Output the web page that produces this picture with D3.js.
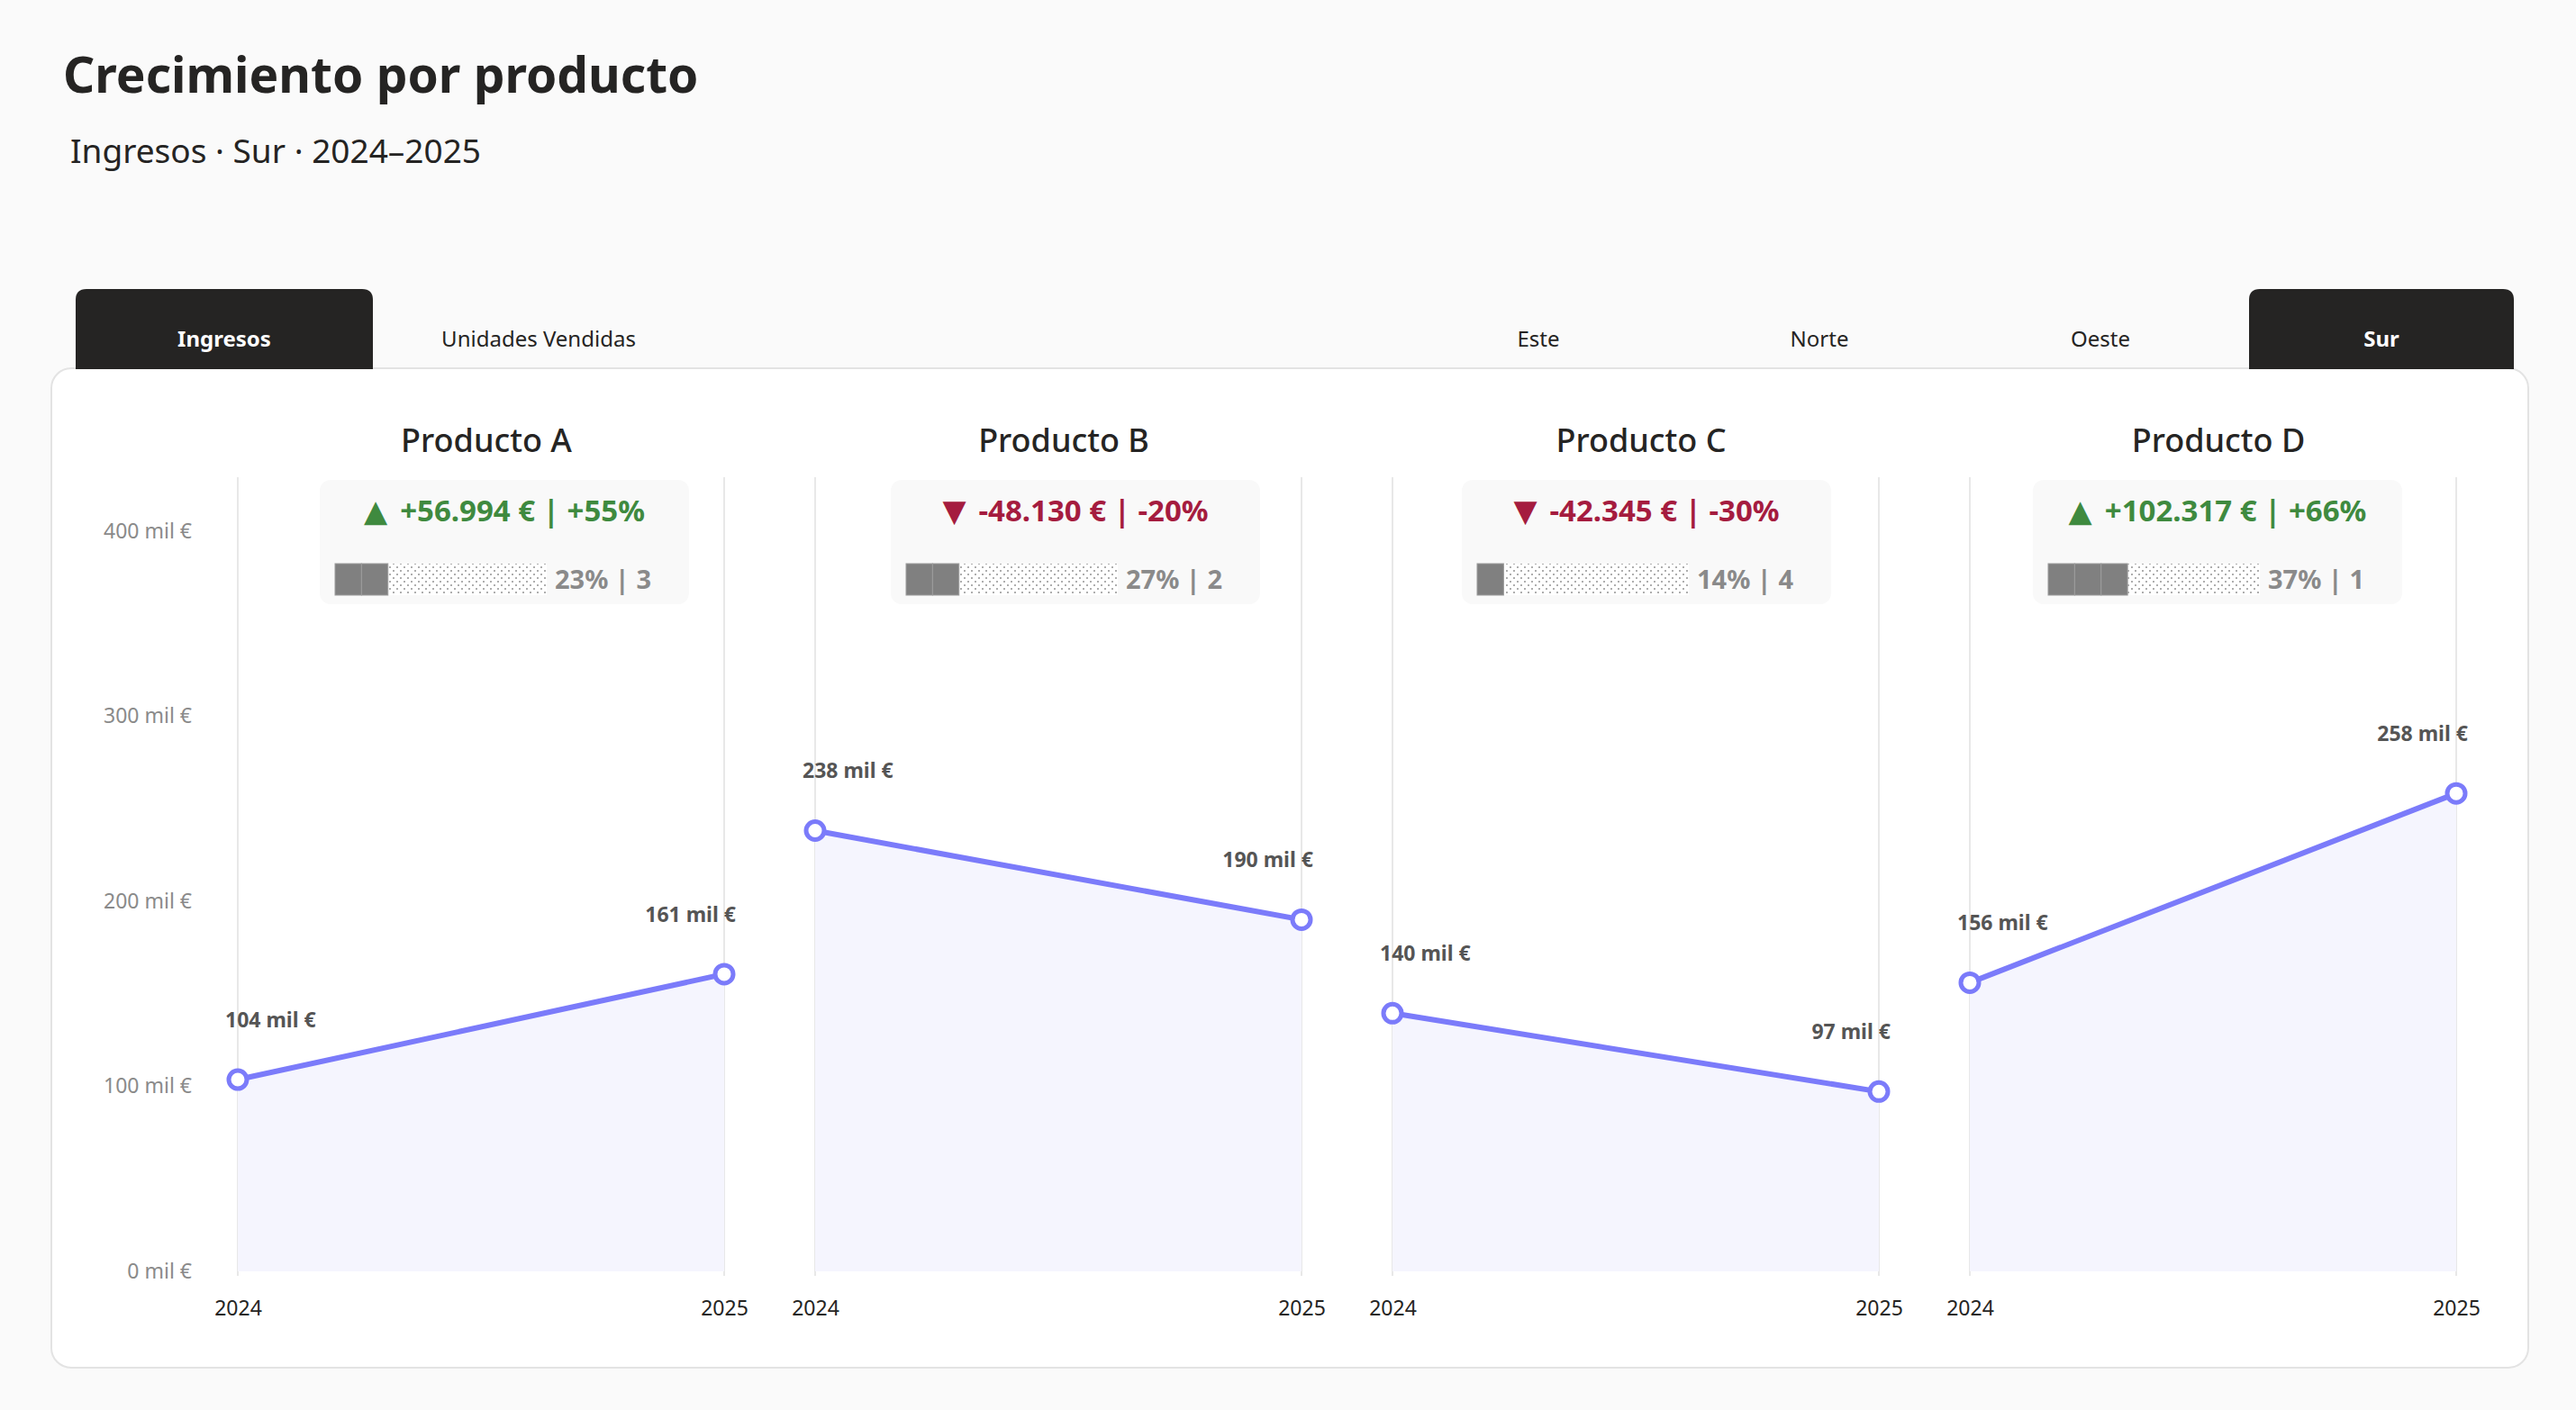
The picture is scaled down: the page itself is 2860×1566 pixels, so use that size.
<!DOCTYPE html>
<html>
<head>
<meta charset="utf-8">
<script src="https://cdn.jsdelivr.net/npm/d3@7"></script>
<style>
  body { margin: 0; background: #fafafa; }
  svg { display: block; font-family: "Segoe UI", "Noto Sans", sans-serif; }
</style>
</head>
<body>
<div id="chart"></div>
<script>
// data
var products = ["Producto A", "Producto B", "Producto C", "Producto D"];
var years = ["2024", "2025"];
var revenue2024 = [103625, 238200, 139500, 156000];
var revenue2025 = [160619, 190070, 97155, 258317];
var yTicks = [0, 100000, 200000, 300000, 400000];
var metricTabs = ["Ingresos", "Unidades Vendidas"];
var regionTabs = ["Este", "Norte", "Oeste", "Sur"];
var activeMetric = "Ingresos";
var activeRegion = "Sur";

var svgWidth = 2860, svgHeight = 1566;
var lineColor = "#7b7bfa", green = "#3f8a3f", red = "#a51c3f", dark = "#252423";

var es = d3.formatLocale({decimal: ",", thousands: ".", grouping: [3], currency: ["", " €"], minus: "-"});
var fmtDiff = es.format("+,d");

var svg = d3.select("#chart").append("svg")
    .attr("width", svgWidth)
    .attr("height", svgHeight);

// dotted pattern for the empty part of share bars
var defs = svg.append("defs");
var pat = defs.append("pattern")
    .attr("id", "dots")
    .attr("patternUnits", "userSpaceOnUse")
    .attr("width", 8).attr("height", 8);
pat.append("rect").attr("width", 8).attr("height", 8).attr("fill", "#fff");
pat.append("circle").attr("cx", 2).attr("cy", 2).attr("r", 0.95).attr("fill", "#8c8c8c");
pat.append("circle").attr("cx", 6).attr("cy", 6).attr("r", 0.95).attr("fill", "#8c8c8c");

// header
svg.append("text")
    .attr("x", 70).attr("y", 103)
    .attr("font-size", 55).attr("font-weight", 700)
    .attr("fill", dark)
    .text("Crecimiento por producto");

svg.append("text")
    .attr("x", 78).attr("y", 181)
    .attr("font-size", 37)
    .attr("fill", dark)
    .text(activeMetric + " · " + activeRegion + " · 2024–2025");

// card
svg.append("rect")
    .attr("x", 57).attr("y", 409)
    .attr("width", 2750).attr("height", 1110)
    .attr("rx", 22)
    .attr("fill", "#fff")
    .attr("stroke", "#e3e3e3")
    .attr("stroke-width", 2);

// tabs
function tabPath(x, y, w, h, r) {
    return "M" + x + "," + (y + h) + "V" + (y + r) + "Q" + x + "," + y + " " + (x + r) + "," + y +
        "H" + (x + w - r) + "Q" + (x + w) + "," + y + " " + (x + w) + "," + (y + r) + "V" + (y + h) + "Z";
}

function drawTabs(labels, active, x0, w, step) {
    var g = svg.append("g");
    var tab = g.selectAll("g").data(labels).enter().append("g")
        .attr("transform", function(d, i) { return "translate(" + (x0 + i * step) + ",0)"; });
    tab.filter(function(d) { return d === active; })
        .append("path")
        .attr("d", tabPath(0, 321, w, 89, 12))
        .attr("fill", dark);
    tab.append("text")
        .attr("x", w / 2).attr("y", 385)
        .attr("text-anchor", "middle")
        .attr("font-size", 24)
        .attr("font-weight", function(d) { return d === active ? 700 : 400; })
        .attr("fill", function(d) { return d === active ? "#fff" : dark; })
        .text(function(d) { return d; });
}
drawTabs(metricTabs, activeMetric, 84, 330, 349);
drawTabs(regionTabs, activeRegion, 1561, 294, 312);

// scales
var yScale = d3.scaleLinear().domain([0, 400000]).range([1412, 590]);

var panelScale = d3.scaleBand()
    .domain(products)
    .range([264, 2727])
    .paddingInner(101 / 641)
    .paddingOuter(0);

var xScale = d3.scalePoint().domain(years).range([0, panelScale.bandwidth()]);

// kpi boxes sit on their own grid
var kpiScale = d3.scalePoint().domain(products).range([560, 2462]);

// y axis
var leftAxis = d3.axisLeft(yScale)
    .tickValues(yTicks)
    .tickSize(0)
    .tickPadding(0)
    .tickFormat(function(d) { return (d / 1000) + " mil €"; });

var yAxisG = svg.append("g")
    .attr("transform", "translate(213,0)")
    .call(leftAxis);
yAxisG.select(".domain").remove();
yAxisG.selectAll("text")
    .attr("font-size", 23)
    .attr("font-family", "Segoe UI, Noto Sans, sans-serif")
    .attr("fill", "#8a8a8a");

var total2025 = d3.sum(revenue2025);
var shares = revenue2025.map(function(v) { return v / total2025; });
var ranks = shares.map(function(s) { return shares.filter(function(o) { return o > s; }).length + 1; });

var area = d3.area()
    .x(function(d) { return xScale(d.year); })
    .y0(yScale(0))
    .y1(function(d) { return yScale(d.value); });

var line = d3.line()
    .x(function(d) { return xScale(d.year); })
    .y(function(d) { return yScale(d.value); });

products.forEach(function(name, i) {
    var pts = [
        {year: years[0], value: revenue2024[i]},
        {year: years[1], value: revenue2025[i]}
    ];
    var diff = revenue2025[i] - revenue2024[i];
    var pct = Math.round(diff / revenue2024[i] * 100);
    var up = diff >= 0;
    var bw = panelScale.bandwidth();

    var g = svg.append("g")
        .attr("transform", "translate(" + panelScale(name) + ",0)");

    // grid lines
    g.selectAll(".grid").data(years).enter().append("line")
        .attr("x1", function(d) { return xScale(d); })
        .attr("x2", function(d) { return xScale(d); })
        .attr("y1", 530).attr("y2", 1417)
        .attr("stroke", "#e8e8e8")
        .attr("stroke-width", 2);

    // x axis
    var bottomAxis = d3.axisBottom(xScale).tickSize(0).tickPadding(33);
    var xg = g.append("g")
        .attr("transform", "translate(0," + yScale(0) + ")")
        .call(bottomAxis);
    xg.select(".domain").remove();
    xg.selectAll("text")
        .attr("font-size", 23)
        .attr("font-family", "Segoe UI, Noto Sans, sans-serif")
        .attr("fill", dark);

    // title
    g.append("text")
        .attr("x", bw / 2 + 6).attr("y", 502)
        .attr("text-anchor", "middle")
        .attr("font-size", 36)
        .attr("font-weight", 500)
        .attr("fill", dark)
        .text(name);

    // kpi box
    var kg = svg.append("g")
        .attr("transform", "translate(" + (kpiScale(name) - 205) + ",0)");
    kg.append("rect")
        .attr("x", 0).attr("y", 533)
        .attr("width", 410).attr("height", 138)
        .attr("rx", 12)
        .attr("fill", "#f9f9f9");

    var kt = kg.append("text")
        .attr("x", 205).attr("y", 579)
        .attr("text-anchor", "middle")
        .attr("font-size", 33)
        .attr("font-weight", 700)
        .attr("fill", up ? green : red);
    kt.append("tspan")
        .attr("font-family", "DejaVu Sans")
        .attr("font-size", 34)
        .text(up ? "▲" : "▼");
    kt.append("tspan")
        .attr("dx", 14)
        .text(fmtDiff(diff) + " € | " + (pct > 0 ? "+" : "") + pct + "%");

    // share bar: 8 cells
    var cells = 8, cellW = 235 / cells, barX = 17;
    var filled = Math.round(shares[i] * cells);
    kg.append("rect")
        .attr("x", barX + filled * cellW).attr("y", 626)
        .attr("width", (cells - filled) * cellW).attr("height", 35)
        .attr("fill", "url(#dots)");
    kg.selectAll(".cell").data(d3.range(filled)).enter().append("rect")
        .attr("x", function(d) { return barX + d * cellW; })
        .attr("y", 626)
        .attr("width", cellW).attr("height", 35)
        .attr("fill", "#808080")
        .attr("stroke", "#9c9c9c")
        .attr("stroke-width", 1);

    kg.append("text")
        .attr("x", barX + 244).attr("y", 654)
        .attr("font-size", 29)
        .attr("font-weight", 700)
        .attr("fill", "#8a8a8a")
        .text(Math.round(shares[i] * 100) + "% | " + ranks[i]);

    // area + line
    g.append("path").datum(pts)
        .attr("d", area)
        .attr("fill", "#f5f5fe");
    g.append("path").datum(pts)
        .attr("d", line)
        .attr("fill", "none")
        .attr("stroke", lineColor)
        .attr("stroke-width", 6);

    g.selectAll(".pt").data(pts).enter().append("circle")
        .attr("cx", function(d) { return xScale(d.year); })
        .attr("cy", function(d) { return yScale(d.value); })
        .attr("r", 10)
        .attr("fill", "#fff")
        .attr("stroke", lineColor)
        .attr("stroke-width", 5);

    g.selectAll(".lbl").data(pts).enter().append("text")
        .attr("x", function(d, j) { return xScale(d.year) + (j === 0 ? -14 : 13); })
        .attr("y", function(d) { return yScale(d.value) - 58; })
        .attr("text-anchor", function(d, j) { return j === 0 ? "start" : "end"; })
        .attr("font-size", 23)
        .attr("font-weight", 700)
        .attr("fill", "#555")
        .text(function(d) { return Math.round(d.value / 1000) + " mil €"; });
});
</script>
</body>
</html>
